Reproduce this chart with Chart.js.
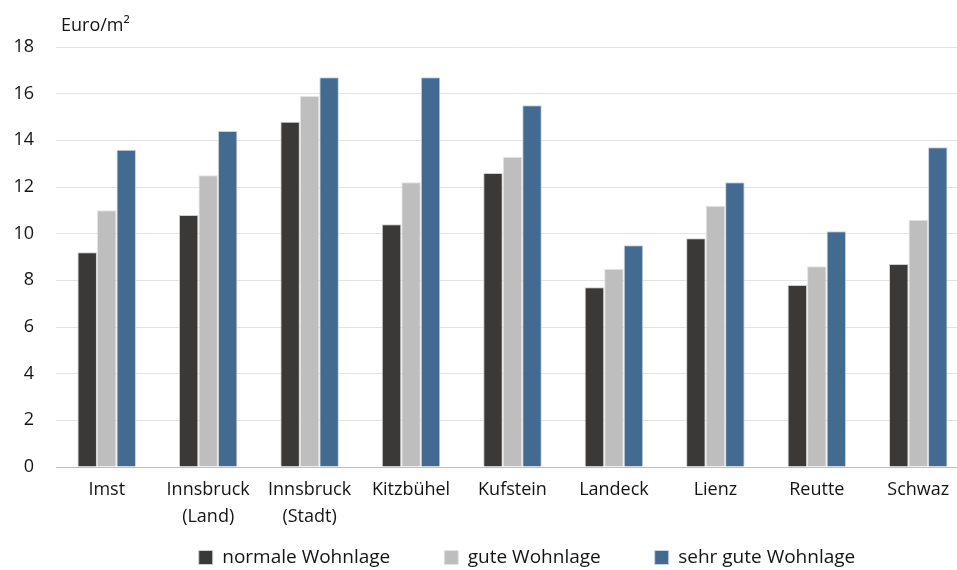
<!DOCTYPE html>
<html>
<head>
<meta charset="utf-8">
<script src="https://cdn.jsdelivr.net/npm/chart.js@4"></script>
<style>
    html, body { margin: 0; padding: 0; background: #fff; overflow: hidden; }
    #wrap { width: 957px; height: 570px; overflow: hidden; }
    #wrap div { width: 1054px; height: 570px; position: relative; }
</style>
</head>
<body>
<div id="wrap"><div><canvas id="chart"></canvas></div></div>
<script>
// Bezirke
const districts = ['Imst', ['Innsbruck', '(Land)'], ['Innsbruck', '(Stadt)'], 'Kitzbühel', 'Kufstein', 'Landeck', 'Lienz', 'Reutte', 'Schwaz'];

// Euro/m2 je Wohnlage
const normale = [9.2, 10.8, 14.8, 10.4, 12.6, 7.7, 9.8, 7.8, 8.7];
const gute = [11.0, 12.5, 15.9, 12.2, 13.3, 8.5, 11.2, 8.6, 10.6];
const sehrGute = [13.6, 14.4, 16.7, 16.7, 15.5, 9.5, 12.2, 10.1, 13.7];

const yTicks = [0, 2, 4, 6, 8, 10, 12, 14, 16, 18];

const FONT = "'Open Sans', sans-serif";
const TEXT = '#141414';
const LEGEND_PAD = 54;

// draws the unit label above the y axis
const unitLabel = {
    id: 'unitLabel',
    afterDraw(chart) {
        const ctx = chart.ctx;
        ctx.save();
        ctx.fillStyle = TEXT;
        ctx.font = `18px ${FONT}`;
        ctx.textBaseline = 'alphabetic';
        ctx.fillText('Euro/m²', chart.chartArea.left + 5, 31);
        ctx.restore();
    }
};

// legend: wide gaps between items but sitting close under the axis labels,
// centred on the whole canvas
const legendPlace = {
    id: 'legendPlace',
    afterLayout(chart) {
        const lg = chart.legend;
        lg.top -= LEGEND_PAD - 18;
        lg.left = 0;
        lg.right = chart.width;
    }
};

document.addEventListener('DOMContentLoaded', () => {
    new Chart(document.getElementById('chart'), {
        type: 'bar',
        data: {
            labels: districts,
            datasets: [
                { label: 'normale Wohnlage', data: normale, backgroundColor: '#3a3937', borderColor: '#d0d0d0', borderWidth: 1 },
                { label: 'gute Wohnlage', data: gute, backgroundColor: '#bebebe', borderColor: '#e4e4e4', borderWidth: 1 },
                { label: 'sehr gute Wohnlage', data: sehrGute, backgroundColor: '#436a90', borderColor: '#c8d4e0', borderWidth: 1 }
            ]
        },
        options: {
            responsive: true,
            maintainAspectRatio: false,
            animation: false,
            layout: { padding: { top: 47, right: 85, bottom: 0, left: 0 } },
            datasets: { bar: { barPercentage: 1, categoryPercentage: 0.577 } },
            plugins: {
                legend: {
                    position: 'bottom',
                    maxHeight: 40,
                    labels: {
                        color: TEXT,
                        font: { family: FONT, size: 19 },
                        boxWidth: 14,
                        boxHeight: 14,
                        padding: LEGEND_PAD
                    }
                },
                tooltip: { enabled: false }
            },
            scales: {
                x: {
                    grid: { display: false, drawTicks: false },
                    border: { color: '#bfbfbf', width: 1 },
                    afterFit: scale => { scale.height = 63; },
                    ticks: { color: TEXT, font: { family: FONT, size: 18, lineHeight: 1.5 }, padding: 9, maxRotation: 0 }
                },
                y: {
                    min: 0,
                    max: 18,
                    afterBuildTicks: scale => { scale.ticks = yTicks.map(v => ({ value: v })); },
                    afterFit: scale => { scale.width = 56; },
                    grid: { color: '#e3e3e3', drawTicks: false },
                    border: { display: false },
                    ticks: { color: TEXT, font: { family: FONT, size: 18 }, padding: 22 }
                }
            }
        },
        plugins: [unitLabel, legendPlace]
    });
});
</script>
</body>
</html>
